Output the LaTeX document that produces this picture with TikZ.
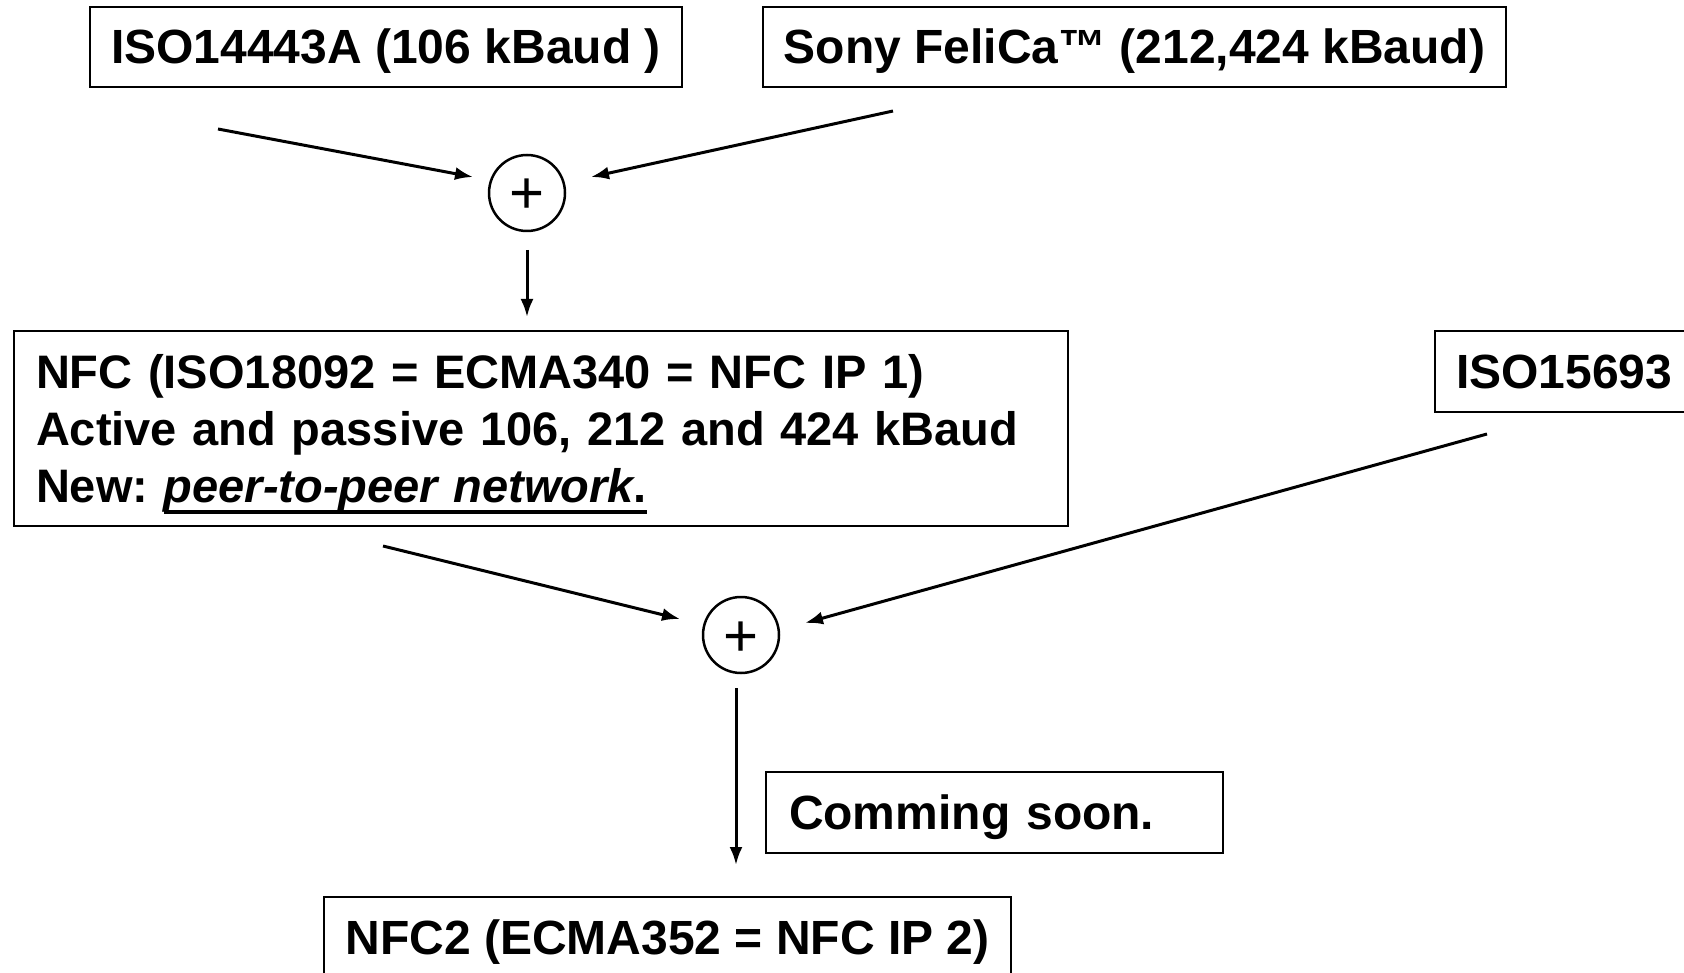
\documentclass[tikz,border=0pt]{standalone}
\usepackage{fontspec}
\setmainfont{Liberation Sans}
\usetikzlibrary{arrows.meta}
\newcommand{\myul}[1]{\setbox0\hbox{#1}\rlap{\rule[-11pt]{\wd0}{4pt}}\box0}
\begin{document}
\begin{tikzpicture}[x=1pt,y=-1pt,
  box/.style={draw,line width=2.5pt,inner sep=0pt,text height=34pt,text depth=0pt,font=\fontsize{48}{57}\selectfont\bfseries},
  sumnode/.style={draw,circle,line width=2.5pt,minimum size=76pt,inner sep=0pt,text height=42pt,text depth=0pt,font=\fontsize{60}{60}\selectfont},
  conn/.style={line width=3pt,-{Latex[length=18pt,width=13pt]}}]
\useasboundingbox (0,0) rectangle (1684,973);
\fill[white] (0,0) rectangle (1684,973);
% boxes
\node[box,minimum width=592pt,minimum height=80pt] (iso14443) at (386,47) {ISO14443A (106 kBaud )};
\node[box,minimum width=743pt,minimum height=80pt] (felica) at (1134.5,47) {Sony FeliCa™ (212,424 kBaud)};
\node[box,minimum width=1054pt,minimum height=195pt,text width=1010pt,align=left,text height=34pt,text depth=113pt,font=\fontsize{47}{57}\selectfont\bfseries] (nfc) at (541,428.5)
  {NFC (ISO18092 = ECMA340 = NFC IP 1)\\Active and passive 106, 212 and 424 kBaud\\New:\kern-8pt{} \myul{\textit{peer-to-peer network}.}};
\node[box,minimum width=260pt,minimum height=81pt,text width=218pt,align=left] (iso15693) at (1565,371.5) {ISO15693};
\node[box,minimum width=457pt,minimum height=81pt,text width=411pt,align=left] (soon) at (994.5,812.5) {Comming soon.};
\node[box,minimum width=687pt,minimum height=80pt] (nfc2) at (667.5,937) {NFC2 (ECMA352 = NFC IP 2)};
% sum nodes
\node[sumnode] (sum1) at (527,193) {+};
\node[sumnode] (sum2) at (741,635) {+};
% connector end points
\coordinate (a1s) at (218,129);
\coordinate (a1e) at (473,177);
\coordinate (a2s) at (893,111);
\coordinate (a2e) at (591,177);
\coordinate (a3s) at (527,250);
\coordinate (a3e) at (527,317);
\coordinate (a4s) at (383,546);
\coordinate (a4e) at (680,619);
\coordinate (a5s) at (1487,434);
\coordinate (a5e) at (805,623);
\coordinate (a6s) at (736,688);
\coordinate (a6e) at (736,865);
% connectors
\draw[conn] (a1s) -- (a1e);
\draw[conn] (a2s) -- (a2e);
\draw[conn] (a3s) -- (a3e);
\draw[conn] (a4s) -- (a4e);
\draw[conn] (a5s) -- (a5e);
\draw[conn] (a6s) -- (a6e);
\end{tikzpicture}
\end{document}
